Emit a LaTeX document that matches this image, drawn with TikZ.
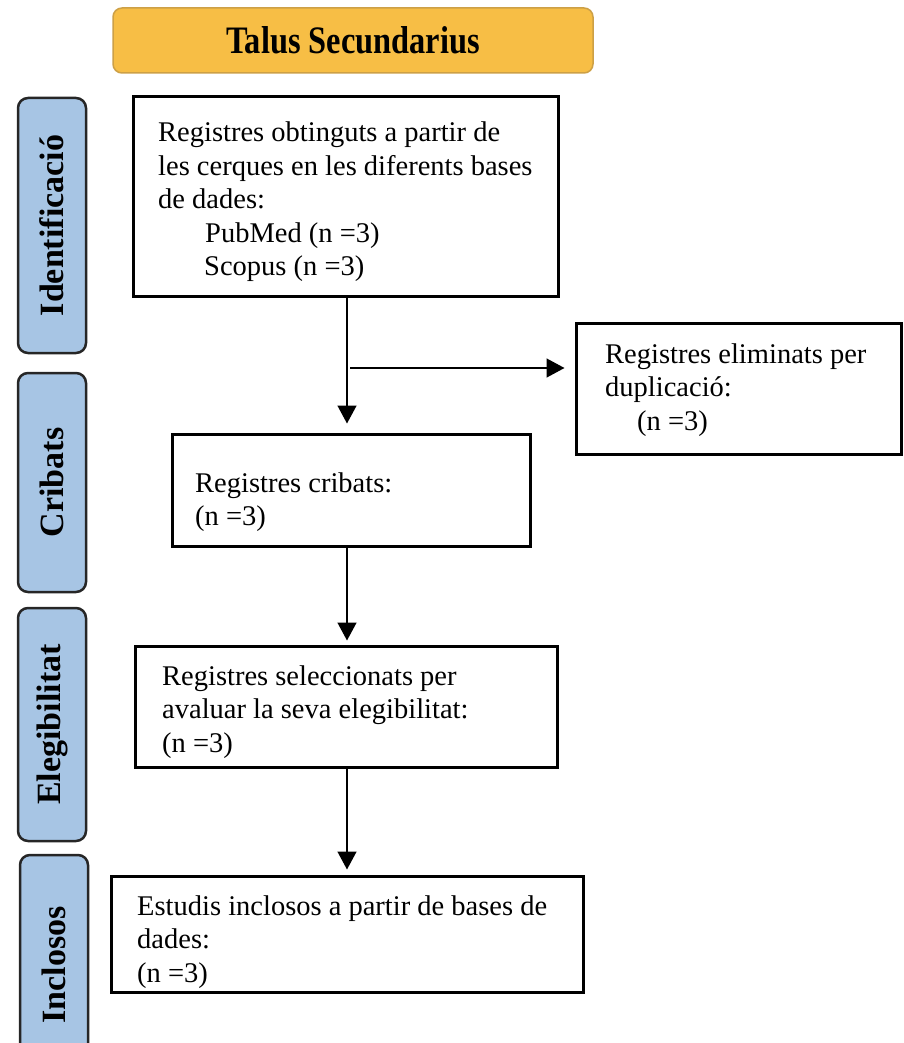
\documentclass[tikz,border=0pt]{standalone}
\usepackage{fontspec}
\setmainfont{Liberation Serif}
\usetikzlibrary{arrows.meta}
\definecolor{phaseblue}{RGB}{167,197,228}
\definecolor{titlefill}{RGB}{247,190,69}
\definecolor{titleedge}{RGB}{205,160,70}
\newcommand{\boxlines}[1]{\begin{tabular}[t]{@{}l@{}}#1\end{tabular}}
\begin{document}
\begin{tikzpicture}[x=1pt,y=-1pt,
  box/.style={draw=black, line width=3pt, inner sep=0pt},
  phase/.style={draw=black!85, line width=2.5pt, fill=phaseblue, rounded corners=10pt,
    minimum width=68pt, inner sep=0pt, font=\fontsize{34}{34}\selectfont\bfseries},
  boxtext/.style={anchor=base west, inner sep=0pt,
    font=\fontsize{28.5}{33.5}\selectfont},
  arr/.style={line width=1.5pt, -{Triangle[length=18pt,width=19pt]}}]
\useasboundingbox (0,0) rectangle (903,1043);
\clip (0,0) rectangle (903,1043);

% title banner
\node[draw=titleedge, line width=1.5pt, fill=titlefill, rounded corners=9pt,
  minimum width=480pt, minimum height=65pt, inner sep=0pt] (title) at (353,40.5)
  {\fontsize{36}{36}\selectfont\bfseries\scalebox{0.9}[1.08]{Talus Secundarius}};

% phase labels on the left
\node[phase, minimum height=255pt] (ph1) at (52,225.5) {\rotatebox{90}{Identificació}};
\node[phase, minimum height=219pt] (ph2) at (52,482.5) {\rotatebox{90}{Cribats}};
\node[phase, minimum height=233pt] (ph3) at (52,724.5) {\rotatebox{90}{Elegibilitat}};
\node[phase, minimum height=220pt] (ph4) at (54,965) {\rotatebox{90}{Inclosos}};

% flow boxes
\node[box, minimum width=425pt, minimum height=199pt] (b1) at (345.5,196.5) {};
\node[box, minimum width=358pt, minimum height=112pt] (b2) at (351,490) {};
\node[box, minimum width=422pt, minimum height=121pt] (b3) at (346,706.5) {};
\node[box, minimum width=472pt, minimum height=116pt] (b4) at (347,934) {};
\node[box, minimum width=325pt, minimum height=131pt] (b5) at (738.5,388.5) {};

% box contents
\node[boxtext] (t1) at (158,142) {\boxlines{Registres obtinguts a partir de\\
  les cerques en les diferents bases\\ de dades:\\
  \hspace*{47pt}PubMed (n =3)\\ \hspace*{46pt}Scopus (n =3)}};
\node[boxtext] (t2) at (195,492) {\boxlines{Registres cribats:\\ (n =3)}};
\node[boxtext] (t3) at (162,685) {\boxlines{Registres seleccionats per\\
  avaluar la seva elegibilitat:\\ (n =3)}};
\node[boxtext] (t4) at (137,915) {\boxlines{Estudis inclosos a partir de bases de\\
  dades:\\ (n =3)}};
\node[boxtext] (t5) at (605,363) {\boxlines{Registres eliminats per\\
  duplicació:\\ \hspace*{32pt}(n =3)}};

% connectors
\coordinate (j) at (347,368);
\coordinate (js) at (350,368);
\draw[arr, shorten >=9pt] (b1.south -| j) -- (b2.north -| j);
\draw[arr, shorten >=10pt] (js) -- (b5.west |- js);
\draw[arr, shorten >=4pt] (b2.south -| j) -- (b3.north -| j);
\draw[arr, shorten >=5pt] (b3.south -| j) -- (b4.north -| j);
\end{tikzpicture}
\end{document}
